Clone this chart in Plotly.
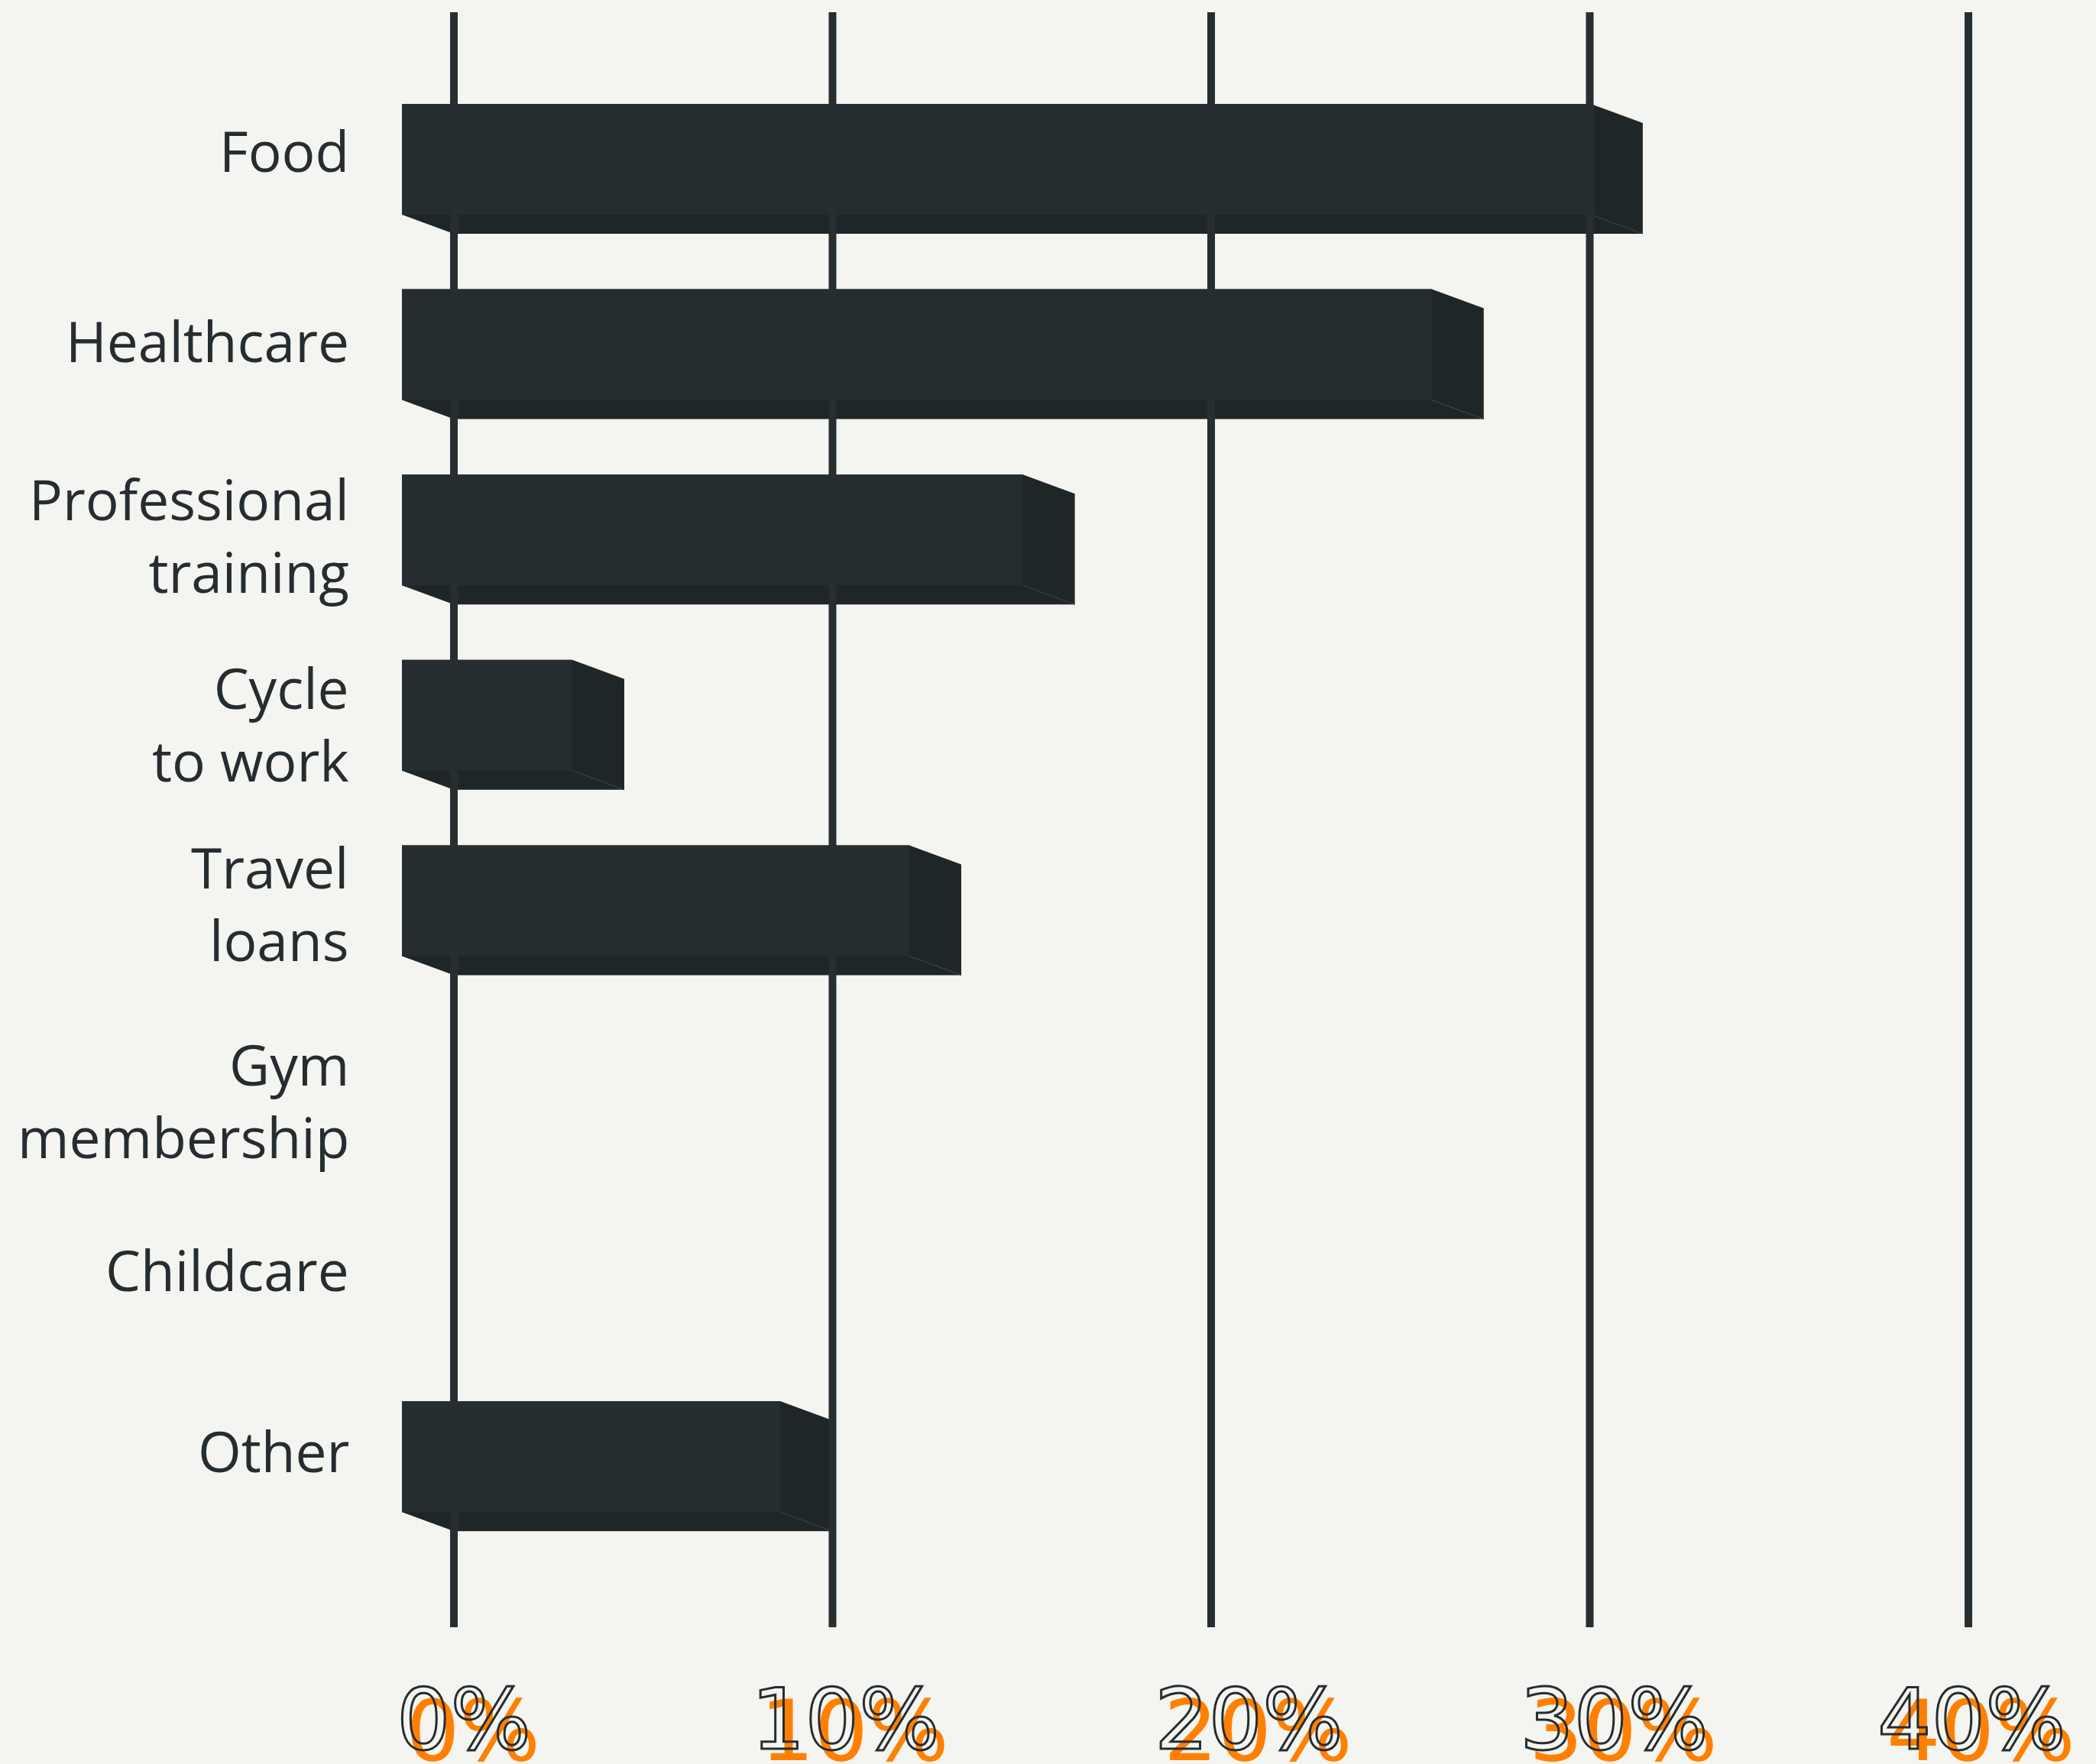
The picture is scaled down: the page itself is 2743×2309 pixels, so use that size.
import plotly.graph_objects as go

# ---- data -------------------------------------------------------------
categories = [
    "Food",
    "Healthcare",
    "Professional<br>training",
    "Cycle<br>to work",
    "Travel<br>loans",
    "Gym<br>membership",
    "Childcare",
    "Other",
]
shares = [31.4, 27.2, 16.4, 4.5, 13.4, 0, 0, 10.0]   # percent of respondents
tick_values = [0, 10, 20, 30, 40]
tick_labels = ["0%", "10%", "20%", "30%", "40%"]

# ---- styling ----------------------------------------------------------
W, H = 2743, 2309
BG = "#f4f4f0"
FRONT = "#252d30"
SIDE = "#1f2628"
SEAM = "#3b4346"
GRID = "#262e31"
TEXT = "#252d30"
OUTLINE_MARK = "#252d31"      # picked up by the post script and turned into a stroke
ORANGE = "#ff8000"

ZERO_PX = 594.0               # pixel column of the 0% line
PX_PER_PCT = 49.55
FIRST_ROW_PX = 233.5          # pixel row of the first category (back face centre)
ROW_PX = 242.6
BAR_THICK = 145 / ROW_PX      # in category units
DEPTH_X = 68 / PX_PER_PCT     # extrusion, in percent units
DEPTH_Y = 25 / ROW_PX         # extrusion, in category units

x_range = [-ZERO_PX / PX_PER_PCT, (W - ZERO_PX) / PX_PER_PCT]
y_range = [(H - FIRST_ROW_PX) / ROW_PX, -FIRST_ROW_PX / ROW_PX]   # reversed: first row on top

rows = list(range(len(categories)))
front_rows = [r - DEPTH_Y for r in rows]

fig = go.Figure()

# each bar: dark silhouette (bottom + right faces), seam, then the front face on top
for r, v in zip(rows, shares):
    if v <= 0:
        continue
    yt_f = r - DEPTH_Y - BAR_THICK / 2
    yb_f = r - DEPTH_Y + BAR_THICK / 2
    yt_b = r - BAR_THICK / 2
    yb_b = r + BAR_THICK / 2
    fig.add_trace(go.Scatter(
        x=[-DEPTH_X, v - DEPTH_X, v, v, 0, -DEPTH_X, -DEPTH_X],
        y=[yt_f, yt_f, yt_b, yb_b, yb_b, yb_f, yt_f],
        mode="lines", fill="toself", fillcolor=SIDE,
        line=dict(width=0, color=SIDE), hoverinfo="skip",
    ))
    fig.add_trace(go.Scatter(
        x=[v - DEPTH_X, v], y=[yb_f, yb_b],
        mode="lines", line=dict(width=1.2, color=SEAM), hoverinfo="skip",
    ))
    fig.add_trace(go.Scatter(
        x=[-DEPTH_X, v - DEPTH_X, v - DEPTH_X, -DEPTH_X, -DEPTH_X],
        y=[yt_f, yt_f, yb_f, yb_f, yt_f],
        mode="lines", fill="toself", fillcolor=FRONT,
        line=dict(width=0, color=FRONT), hoverinfo="skip",
    ))

# vertical grid lines, drawn over the bars
grid_top = 1 - 16 / H
grid_bottom = 1 - 2130 / H
for t in tick_values:
    fig.add_shape(type="line", xref="x", yref="paper",
                  x0=t, x1=t, y0=grid_bottom, y1=grid_top,
                  line=dict(color=GRID, width=10), layer="above")

annotations = []

# category labels, right aligned left of the bars
label_x = (459 - ZERO_PX) / PX_PER_PCT
label_nudge = [12, 6, -6, -11, -3, -18, 3, 8]
for r, name, dy in zip(front_rows, categories, label_nudge):
    annotations.append(dict(
        x=label_x, y=r, xref="x", yref="y", text=name, showarrow=False,
        xanchor="right", yanchor="middle", align="right", yshift=dy,
        font=dict(family="Open Sans", size=73, color=TEXT),
    ))

# percentage labels: orange offset copy underneath an outlined copy
tick_nudge = [13, 17, 49, 32, 4]
tick_y = 1 - 2250 / H
tick_font = "DejaVu Sans"
for t, lab, dx in zip(tick_values, tick_labels, tick_nudge):
    annotations.append(dict(
        x=t, y=tick_y, xref="x", yref="paper", text=lab, showarrow=False,
        xanchor="center", yanchor="middle", xshift=dx + 12, yshift=-15,
        font=dict(family=tick_font, size=111, color=ORANGE),
    ))
for t, lab, dx in zip(tick_values, tick_labels, tick_nudge):
    annotations.append(dict(
        x=t, y=tick_y, xref="x", yref="paper", text=lab, showarrow=False,
        xanchor="center", yanchor="middle", xshift=dx,
        font=dict(family=tick_font, size=111, color=OUTLINE_MARK),
    ))

fig.update_layout(
    width=W, height=H,
    margin=dict(l=0, r=0, t=0, b=0),
    paper_bgcolor=BG, plot_bgcolor=BG,
    showlegend=False,
    xaxis=dict(range=x_range, visible=False, fixedrange=True),
    yaxis=dict(range=y_range, visible=False, fixedrange=True),
    annotations=annotations,
)

outline_js = """
var gd = document.getElementById('{plot_id}');
function outlineTicks() {
  gd.querySelectorAll('text.annotation-text').forEach(function (t) {
    if ((t.style.fill || '').replace(/\\s/g, '') === 'rgb(37,45,49)') {
      t.style.fill = 'none';
      t.style.stroke = '#252d30';
      t.style.strokeWidth = '3px';
    }
  });
}
outlineTicks();
gd.on('plotly_afterplot', outlineTicks);
"""

fig.write_html("out.html", post_script=outline_js,
               config={"responsive": False, "displayModeBar": False})
